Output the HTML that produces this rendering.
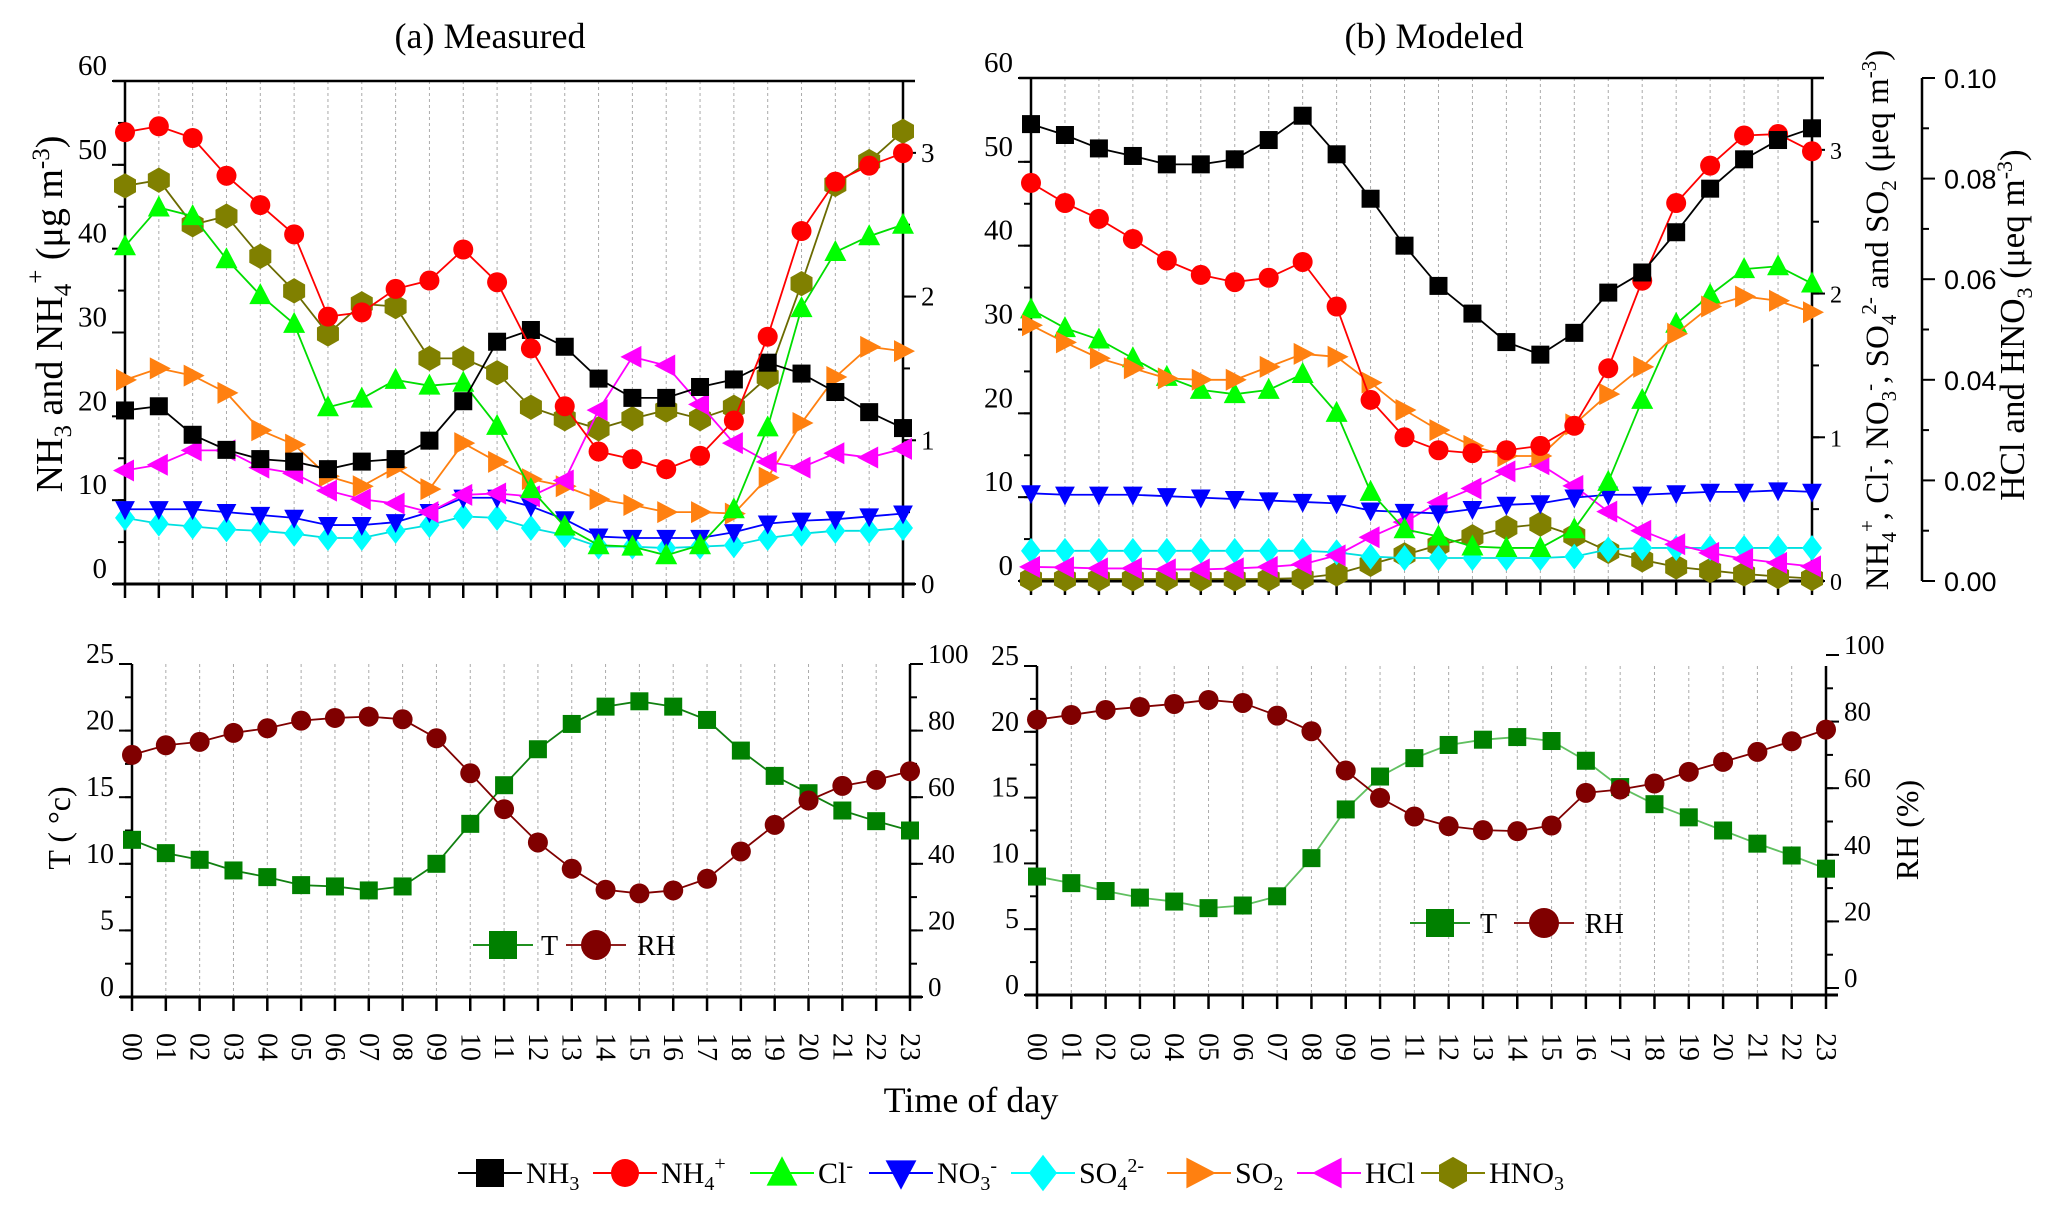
<!DOCTYPE html>
<html><head><meta charset="utf-8"><style>
html,body{margin:0;padding:0;background:#fff;}
svg{display:block;font-family:"Liberation Serif",serif;}
</style></head><body>
<svg id="chart" width="2067" height="1211" viewBox="0 0 2067 1211" xmlns="http://www.w3.org/2000/svg">
<text x="490" y="48" font-size="36" text-anchor="middle">(a) Measured</text>
<text x="1434" y="48" font-size="36" text-anchor="middle">(b) Modeled</text>
<text transform="translate(62,314) rotate(-90)" font-size="38" text-anchor="middle">NH<tspan font-size="25" dy="9">3</tspan><tspan dy="-9"> and NH</tspan><tspan font-size="25" dy="9">4</tspan><tspan font-size="25" dy="-27">+</tspan><tspan dy="18"> (μg m</tspan><tspan font-size="25" dy="-13">-3</tspan><tspan dy="13">)</tspan></text>
<text transform="translate(1888,320) rotate(-90)" font-size="33" text-anchor="middle">NH<tspan font-size="21" dy="8">4</tspan><tspan font-size="21" dy="-22">+</tspan><tspan dy="14">, Cl</tspan><tspan font-size="21" dy="-12">-</tspan><tspan dy="12">, NO</tspan><tspan font-size="21" dy="8">3</tspan><tspan font-size="21" dy="-20">-</tspan><tspan dy="12">, SO</tspan><tspan font-size="21" dy="8">4</tspan><tspan font-size="21" dy="-20">2-</tspan><tspan dy="12"> and SO</tspan><tspan font-size="21" dy="8">2</tspan><tspan dy="-8"> (μeq m</tspan><tspan font-size="21" dy="-12">-3</tspan><tspan dy="12">)</tspan></text>
<text transform="translate(2024,325) rotate(-90)" font-size="35" text-anchor="middle">HCl and HNO<tspan font-size="22" dy="8">3</tspan><tspan dy="-8"> (μeq m</tspan><tspan font-size="22" dy="-12">-3</tspan><tspan dy="12">)</tspan></text>
<text transform="translate(70,828) rotate(-90)" font-size="32" text-anchor="middle">T ( °c)</text>
<text transform="translate(1918,830) rotate(-90)" font-size="32" text-anchor="middle">RH (%)</text>
<text x="971" y="1112" font-size="36" text-anchor="middle">Time of day</text>
</svg>
<script>
var hours=["00","01","02","03","04","05","06","07","08","09","10","11","12","13","14","15","16","17","18","19","20","21","22","23"];
// Panel (a) measured
var aNH3=[20.7,21.2,17.8,16.0,14.9,14.6,13.7,14.6,14.9,17.1,21.8,28.9,30.3,28.3,24.5,22.2,22.2,23.5,24.4,26.4,25.1,22.9,20.5,18.6];
var aNH4=[53.9,54.6,53.2,48.7,45.2,41.7,31.9,32.4,35.2,36.2,39.9,36.0,28.1,21.2,15.8,14.9,13.7,15.3,19.5,29.5,42.1,48.0,49.9,51.4];
var aCl=[2.35,2.62,2.56,2.26,2.01,1.81,1.23,1.29,1.42,1.38,1.40,1.10,0.66,0.40,0.27,0.26,0.20,0.27,0.52,1.09,1.92,2.31,2.42,2.50];
var aNO3=[0.52,0.52,0.52,0.50,0.48,0.46,0.41,0.41,0.43,0.50,0.60,0.60,0.54,0.45,0.33,0.32,0.32,0.32,0.36,0.42,0.44,0.45,0.47,0.49];
var aSO4=[0.46,0.42,0.40,0.38,0.37,0.35,0.32,0.32,0.37,0.41,0.47,0.46,0.39,0.34,0.26,0.26,0.25,0.26,0.27,0.32,0.35,0.37,0.37,0.39];
var aSO2=[1.42,1.50,1.45,1.33,1.07,0.97,0.75,0.68,0.81,0.66,0.98,0.85,0.73,0.68,0.59,0.55,0.50,0.50,0.49,0.74,1.12,1.44,1.65,1.62];
var aHCl=[0.79,0.83,0.93,0.93,0.81,0.77,0.65,0.59,0.56,0.50,0.62,0.63,0.61,0.72,1.21,1.58,1.52,1.25,0.98,0.85,0.81,0.91,0.88,0.94];
var aHNO3=[2.77,2.81,2.50,2.56,2.28,2.04,1.74,1.95,1.93,1.57,1.57,1.47,1.23,1.15,1.08,1.15,1.21,1.15,1.23,1.44,2.09,2.78,2.94,3.15];
// Panel (b) modeled
var bNH3=[54.5,53.2,51.6,50.7,49.7,49.7,50.3,52.6,55.5,50.9,45.6,40.0,35.2,31.9,28.5,27.0,29.6,34.4,36.8,41.6,46.8,50.3,52.6,54.0];
var bNH4=[2.77,2.63,2.52,2.38,2.23,2.13,2.08,2.11,2.22,1.91,1.26,1.00,0.91,0.89,0.91,0.94,1.08,1.48,2.09,2.63,2.89,3.10,3.11,2.99];
var bCl=[1.89,1.76,1.68,1.55,1.42,1.33,1.30,1.33,1.44,1.17,0.62,0.36,0.31,0.24,0.23,0.23,0.36,0.69,1.26,1.79,1.99,2.17,2.19,2.07];
var bNO3=[0.61,0.60,0.60,0.60,0.59,0.58,0.57,0.56,0.55,0.54,0.49,0.48,0.47,0.50,0.53,0.54,0.58,0.60,0.60,0.61,0.62,0.62,0.63,0.62];
var bSO4=[0.21,0.21,0.21,0.21,0.21,0.21,0.21,0.21,0.21,0.20,0.17,0.16,0.16,0.16,0.16,0.16,0.17,0.22,0.23,0.23,0.23,0.23,0.23,0.23];
var bSO2=[1.78,1.66,1.55,1.48,1.41,1.40,1.40,1.49,1.58,1.56,1.38,1.19,1.05,0.94,0.87,0.87,1.09,1.30,1.49,1.72,1.91,1.98,1.95,1.87];
var bHCl=[0.0028,0.0027,0.0025,0.0025,0.0023,0.0023,0.0025,0.0028,0.0033,0.0051,0.0087,0.0117,0.0156,0.0184,0.0218,0.0232,0.0189,0.0138,0.0100,0.0073,0.0056,0.0044,0.0036,0.0029];
var bHNO3=[0.0004,0.0004,0.0004,0.0004,0.0004,0.0004,0.0004,0.0004,0.0006,0.0014,0.0033,0.0052,0.0071,0.0088,0.0106,0.0113,0.0090,0.0059,0.0042,0.0028,0.0021,0.0014,0.0009,0.0005];
// Meteorology
var aT=[11.8,10.8,10.3,9.5,9.0,8.4,8.3,8.0,8.3,10.0,13.0,15.9,18.6,20.5,21.8,22.2,21.8,20.8,18.5,16.6,15.3,14.0,13.2,12.5];
var aRH=[72.7,75.6,76.6,79.3,80.7,83.0,83.8,84.2,83.4,77.7,67.2,56.4,46.4,38.5,32.2,31.1,32.0,35.5,43.7,51.7,59.0,63.4,65.2,67.8];
var bT=[9.0,8.5,7.9,7.4,7.1,6.6,6.8,7.5,10.4,14.1,16.6,18.0,19.0,19.4,19.6,19.3,17.8,15.8,14.5,13.5,12.5,11.5,10.6,9.6];
var bRH=[80.6,82.0,83.5,84.4,85.3,86.5,85.6,81.8,77.1,65.3,57.1,51.5,48.6,47.4,47.1,48.8,58.6,59.6,61.4,64.9,67.9,70.9,74.1,77.6];
// Tick labels
var ticksConc=[0,10,20,30,40,50,60];
var ticksEq=[0,1,2,3];
var ticksSmall=["0.00","0.02","0.04","0.06","0.08","0.10"];
var ticksT=[0,5,10,15,20,25];
var ticksRH=[0,20,40,60,80,100];

var NS="http://www.w3.org/2000/svg";
var svg=document.getElementById("chart");
function E(tag,attrs,parent){var e=document.createElementNS(NS,tag);for(var k in attrs)e.setAttribute(k,attrs[k]);(parent||svg).appendChild(e);return e;}

function lin(d0,d1,r0,r1){return function(v){return r0+(v-d0)*(r1-r0)/(d1-d0);};}

var P={
 a:{x0:125,x1:903,top:81,bot:584},
 b:{x0:1031,x1:1812,top:78,bot:581},
 c:{x0:132,x1:910,top:664,bot:997},
 d:{x0:1037,x1:1826,top:666,bot:995}
};
function xs(p){return lin(0,23,p.x0,p.x1);}
var xa=xs(P.a), xb=xs(P.b), xc=xs(P.c), xd=xs(P.d);
var yaL=lin(0,60,584,81), yaR=lin(0,3.5,584,81);
var ybL=lin(0,60,581,78), ybR=lin(0,3.5,581,78), yb3=lin(0,0.1,581,78);
var ycT=lin(0,25,997,664), ycR=lin(0,100,997,664);
var ydT=lin(0,25,995,666), ydR=lin(0,100,988,655);

function marker(g,shape,cx,cy,s,col){
 var p;
 if(shape==="square"){p=E("rect",{x:cx-s,y:cy-s,width:2*s,height:2*s,fill:col},g);}
 else if(shape==="circle"){p=E("circle",{cx:cx,cy:cy,r:s,fill:col},g);}
 else{
  var pts;
  if(shape==="up")pts=[[0,-1.2],[1.1,0.9],[-1.1,0.9]];
  else if(shape==="down")pts=[[0,1.2],[1.1,-0.9],[-1.1,-0.9]];
  else if(shape==="right")pts=[[1.2,0],[-0.9,1.1],[-0.9,-1.1]];
  else if(shape==="left")pts=[[-1.2,0],[0.9,1.1],[0.9,-1.1]];
  else if(shape==="diamond")pts=[[0,-1.3],[1,0],[0,1.3],[-1,0]];
  else pts=[[0,-1.15],[1,-0.58],[1,0.58],[0,1.15],[-1,0.58],[-1,-0.58]];
  p=E("polygon",{points:pts.map(function(q){return (cx+q[0]*s)+","+(cy+q[1]*s);}).join(" "),fill:col},g);
 }
 return p;
}

function series(name,vals,xf,yf,shape,col,lineCol,s){
 var g=E("g",{});
 
 
 var d=vals.map(function(v,i){return (i?"L":"M")+xf(i)+","+yf(v);}).join(" ");
 var l=E("path",{d:d,fill:"none",stroke:lineCol||col,"stroke-width":1.8},g);
 
 
 vals.forEach(function(v,i){
  var m=marker(g,shape,xf(i),yf(v),s||9,col);
  
  
 });
}

function frame(p,xf,boxTop,name){
 var g=E("g",{});
 
 
 for(var i=1;i<23;i++){
  var gl=E("line",{x1:xf(i),x2:xf(i),y1:p.top,y2:p.bot,stroke:"#aaa","stroke-width":1,"stroke-dasharray":"3,3"},g);
  
  
 }
 E("line",{x1:p.x0,x2:p.x0,y1:p.top,y2:p.bot,stroke:"#000","stroke-width":2.5},g);
 E("line",{x1:p.x1,x2:p.x1,y1:p.top,y2:p.bot,stroke:"#000","stroke-width":2.5},g);
 E("line",{x1:p.x0-12,x2:p.x1+12,y1:p.bot,y2:p.bot,stroke:"#000","stroke-width":3},g);
 if(boxTop)E("line",{x1:p.x0-12,x2:p.x1+12,y1:p.top,y2:p.top,stroke:"#000","stroke-width":2.5},g);
 for(var j=0;j<24;j++){E("line",{x1:xf(j),x2:xf(j),y1:p.bot,y2:p.bot+14,stroke:"#000","stroke-width":2.5},g);}
 return g;
}
function yAxisTicks(xAx,dir,yf,vals,minorStep,maxV,labels,font,fs,name,off){
 var g=E("g",{});
 
 
 for(var v=0;v<=maxV+1e-9;v+=minorStep){
  E("line",{x1:xAx,x2:xAx+dir*7,y1:yf(v),y2:yf(v),stroke:"#000","stroke-width":2},g);
 }
 vals.forEach(function(v,i){
  E("line",{x1:xAx,x2:xAx+dir*13,y1:yf(v),y2:yf(v),stroke:"#000","stroke-width":2},g);
  var t=E("text",{x:xAx+dir*18,y:yf(v)+9-(off||0),"font-size":fs,"text-anchor":dir<0?"end":"start","font-family":font},g);
  t.textContent=labels?labels[i]:v;
  
  
 });
}
function xLabels(xf,y){
 hours.forEach(function(h,i){
  var t=E("text",{transform:"translate("+(xf(i)-9)+","+y+") rotate(90)","font-size":28});
  t.textContent=h;
  
  
 });
}

// Panel a
frame(P.a,xa,true,"panel-measured");
yAxisTicks(P.a.x0,-1,yaL,ticksConc,5,60,null,"Liberation Serif",29,"y-axis-left-measured",15);
yAxisTicks(P.a.x1,1,yaR,ticksEq,0.5,3.5,null,"Liberation Serif",27,"y-axis-right-measured",0);
series("series-a-hno3",aHNO3,xa,yaR,"hex","#808000","#6b6b00",11);
series("series-a-so4",aSO4,xa,yaR,"diamond","#00ffff","#00e0e0",10);
series("series-a-no3",aNO3,xa,yaR,"down","#0000ff","#0000ff",9);
series("series-a-so2",aSO2,xa,yaR,"right","#ff8010","#ff8010",10);
series("series-a-hcl",aHCl,xa,yaR,"left","#ff00ff","#ff00ff",10);
series("series-a-cl",aCl,xa,yaR,"up","#00ff00","#00dd00",10);
series("series-a-nh3",aNH3,xa,yaL,"square","#000","#000",9);
series("series-a-nh4",aNH4,xa,yaL,"circle","#ff0000","#ff0000",10);

// Panel b
frame(P.b,xb,true,"panel-modeled");
yAxisTicks(P.b.x0,-1,ybL,ticksConc,5,60,null,"Liberation Serif",29,"y-axis-left-modeled",15);
yAxisTicks(P.b.x1,1,ybR,ticksEq,0.5,3.5,null,"Liberation Serif",24,"y-axis-right-modeled",0);
(function(){
 var g=E("g",{});
 
 
 E("line",{x1:1922,x2:1922,y1:78,y2:581,stroke:"#000","stroke-width":2.5},g);
 for(var k=0;k<=10;k++){var v=k*0.01;E("line",{x1:1922,x2:1922+(k%2?7:13),y1:yb3(v),y2:yb3(v),stroke:"#000","stroke-width":2},g);}
 ticksSmall.forEach(function(s){
  var t=E("text",{x:1944,y:yb3(parseFloat(s))+10,"font-size":27,"font-family":"Liberation Sans"},g);
  t.textContent=s;
  
  
 });
})();
series("series-b-hno3",bHNO3,xb,yb3,"hex","#808000","#6b6b00",11);
series("series-b-so4",bSO4,xb,ybR,"diamond","#00ffff","#00e0e0",10);
series("series-b-hcl",bHCl,xb,yb3,"left","#ff00ff","#ff00ff",10);
series("series-b-no3",bNO3,xb,ybR,"down","#0000ff","#0000ff",9);
series("series-b-cl",bCl,xb,ybR,"up","#00ff00","#00dd00",10);
series("series-b-so2",bSO2,xb,ybR,"right","#ff8010","#ff8010",10);
series("series-b-nh4",bNH4,xb,ybR,"circle","#ff0000","#ff0000",10);
series("series-b-nh3",bNH3,xb,ybL,"square","#000","#000",9);

// Panel c (measured meteorology)
frame(P.c,xc,false,"panel-met-measured");
yAxisTicks(P.c.x0,-1,ycT,ticksT,2.5,25,null,"Liberation Serif",28,"y-axis-t-measured",10);
yAxisTicks(P.c.x1,1,ycR,ticksRH,10,100,null,"Liberation Serif",27,"y-axis-rh-measured",10);
series("series-c-t",aT,xc,ycT,"square","#008000","#108010",9);
series("series-c-rh",aRH,xc,ycR,"circle","#800000","#800000",10);
xLabels(xc,1033);

// Panel d (modeled meteorology)
frame(P.d,xd,false,"panel-met-modeled");
yAxisTicks(P.d.x0,-1,ydT,ticksT,2.5,25,null,"Liberation Serif",28,"y-axis-t-modeled",10);
yAxisTicks(P.d.x1,1,ydR,ticksRH,10,100,null,"Liberation Serif",27,"y-axis-rh-modeled",10);
series("series-d-t",bT,xd,ydT,"square","#008000","#60c060",9);
series("series-d-rh",bRH,xd,ydR,"circle","#800000","#800000",10);
xLabels(xd,1033);

// inner legends
function legendItem(g,x,y,shape,col,s,label,lx){
 E("line",{x1:x-30,x2:x+30,y1:y,y2:y,stroke:col,"stroke-width":1.8},g);
 marker(g,shape,x,y,s,col);
 var t=E("text",{x:lx,y:y+10,"font-size":28},g);
 t.textContent=label;
}
(function(){
 var g=E("g",{});
 
 
 legendItem(g,503,945,"square","#008000",14,"T",541);
 legendItem(g,596,945,"circle","#800000",15,"RH",637);
 var g2=E("g",{});
 
 
 legendItem(g2,1440,923,"square","#008000",14,"T",1480);
 legendItem(g2,1544,923,"circle","#800000",15,"RH",1585);
})();

// bottom legend
var legNames=["NH3","NH4+","Cl-","NO3-","SO42-","SO2","HCl","HNO3"];
var legX=[490,625,782,901,1043,1199,1329,1453];
var legShapes=["square","circle","up","down","diamond","right","left","hex"];
var legCols=["#000","#ff0000","#00ff00","#0000ff","#00ffff","#ff8010","#ff00ff","#808000"];
var legHTML=['NH<tspan font-size="20" dy="7">3</tspan>','NH<tspan font-size="20" dy="7">4</tspan><tspan font-size="20" dy="-20">+</tspan>','Cl<tspan font-size="20" dy="-11">-</tspan>','NO<tspan font-size="20" dy="7">3</tspan><tspan font-size="20" dy="-18">-</tspan>','SO<tspan font-size="20" dy="7">4</tspan><tspan font-size="20" dy="-18">2-</tspan>','SO<tspan font-size="20" dy="7">2</tspan>','HCl','HNO<tspan font-size="20" dy="7">3</tspan>'];
legNames.forEach(function(n,i){
 var g=E("g",{});
 
 
 E("line",{x1:legX[i]-32,x2:legX[i]+32,y1:1173,y2:1173,stroke:legCols[i],"stroke-width":2},g);
 marker(g,legShapes[i],legX[i],1173,14,legCols[i]);
 var t=E("text",{x:legX[i]+36,y:1183,"font-size":30},g);
 t.innerHTML=legHTML[i];
});
</script>
</body></html>
